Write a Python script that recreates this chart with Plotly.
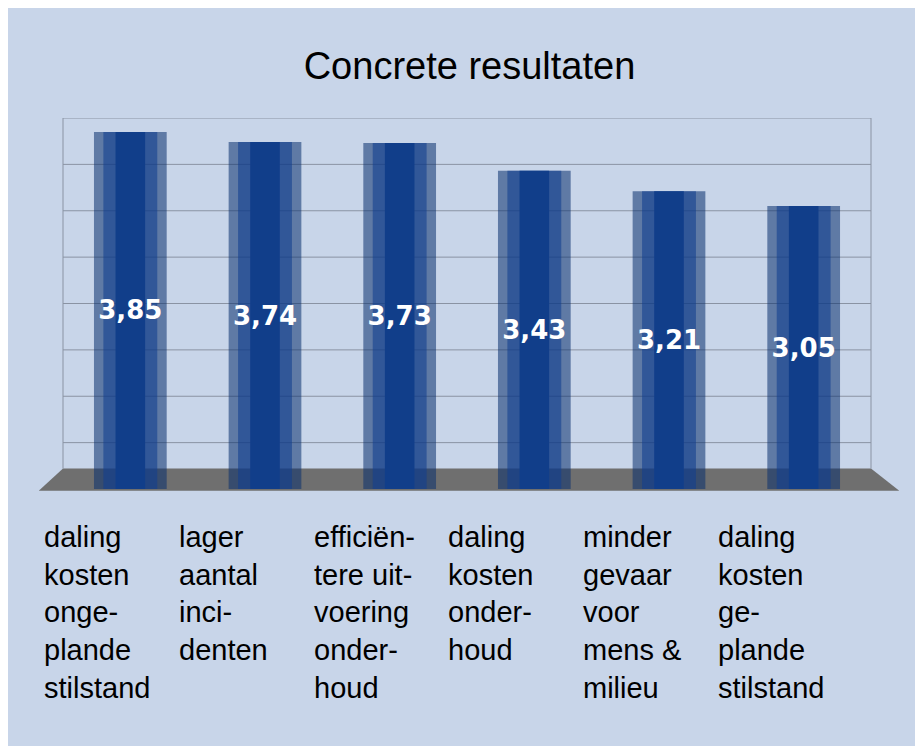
import plotly.graph_objects as go

categories = ["daling<br>kosten<br>onge-<br>plande<br>stilstand", "lager<br>aantal<br>inci-<br>denten",
              "efficiën-<br>tere uit-<br>voering<br>onder-<br>houd", "daling<br>kosten<br>onder-<br>houd",
              "minder<br>gevaar<br>voor<br>mens &<br>milieu", "daling<br>kosten<br>ge-<br>plande<br>stilstand"]
values = [3.85, 3.74, 3.73, 3.43, 3.21, 3.05]
grid_vals = [0.5, 1, 1.5, 2, 2.5, 3, 3.5, 4]
x = list(range(len(values)))

fig = go.Figure()
fig.add_bar(x=x, y=values, width=0.22, marker=dict(color="#1a4d9e", line_width=0), hoverinfo="skip")
fig.add_bar(x=x, y=values, width=0.54, marker=dict(color="rgba(10,47,110,0.55)", line_width=0), hoverinfo="skip")
fig.add_bar(x=x, y=values, width=0.40, marker=dict(color="rgba(18,64,143,0.6)", line_width=0), hoverinfo="skip")
fig.add_bar(x=x, y=values, width=0.54, marker=dict(color="rgba(0,0,0,0)", line_width=0),
            texttemplate="%{y:.2f}", textposition="inside", insidetextanchor="middle", textangle=0,
            textfont=dict(color="white", size=26, family="DejaVu Sans", weight="bold"), hoverinfo="skip")

shapes = []
shapes.append(dict(type="path", xref="paper", yref="paper",
                   path="M -0.03 -0.005 L 1.035 -0.005 L 1.0 0.055 L 0.0 0.055 Z",
                   fillcolor="#6f6f6f", line_width=0, layer="below"))
for g in grid_vals:
    shapes.append(dict(type="line", xref="paper", yref="y", x0=-0.0, x1=1.0, y0=g, y1=g,
                       line=dict(color="#8a93a3", width=1), layer="below"))
shapes.append(dict(type="line", xref="paper", yref="paper", x0=0, x1=0, y0=0.055, y1=1.0,
                   line=dict(color="#8a93a3", width=1), layer="below"))
shapes.append(dict(type="line", xref="paper", yref="paper", x0=1.0, x1=1.0, y0=0.055, y1=1.0,
                   line=dict(color="#8a93a3", width=1), layer="below"))

ann = []
for i, c in enumerate(categories):
    ann.append(dict(x=i, y=-0.08, xref="x", yref="paper", text=c, showarrow=False,
                    xanchor="left", yanchor="top", align="left", xshift=-88,
                    font=dict(size=29, color="black", family="Liberation Sans")))

fig.update_layout(
    width=923, height=746, barmode="overlay", showlegend=False,
    paper_bgcolor="#c8d5e9", plot_bgcolor="rgba(0,0,0,0)",
    margin=dict(l=55, r=60, t=110, b=265),
    title=dict(text="Concrete resultaten", x=0.5, y=0.94, xanchor="center",
               font=dict(size=38, color="black", family="Liberation Sans")),
    xaxis=dict(range=[-0.5, 5.5], showticklabels=False, showgrid=False, zeroline=False),
    yaxis=dict(range=[0, 4], showticklabels=False, showgrid=False, zeroline=False),
    separators=",.", shapes=shapes, annotations=ann,
)
fig.write_html("out.html")
